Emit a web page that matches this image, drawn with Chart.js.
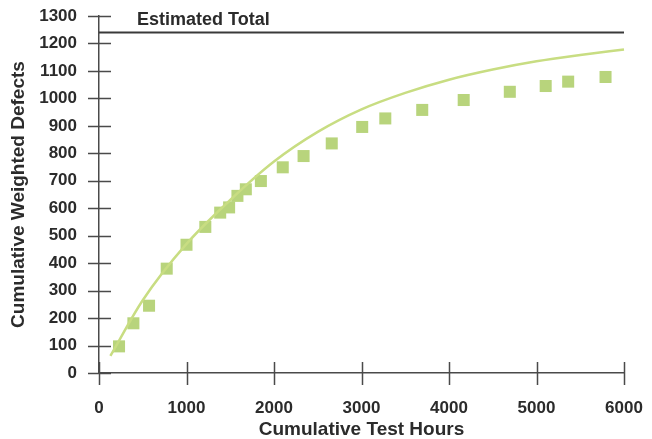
<!DOCTYPE html>
<html>
<head>
<meta charset="utf-8">
<script src="https://cdn.jsdelivr.net/npm/chart.js@4/dist/chart.umd.min.js"></script>
<style>
  html, body { margin: 0; padding: 0; background: #fff; }
  #wrap { width: 652px; height: 439px; }
</style>
</head>
<body>
<div id="wrap"><canvas id="defects-chart"></canvas></div>
<script>
// observed cumulative weighted defects (squares)
let testHours = [229, 393, 572, 774, 1000, 1215, 1385, 1487, 1582, 1678, 1850, 2100, 2338, 2660, 3008, 3272, 3694, 4168, 4695, 5105, 5362, 5789];
let defects = [97, 181, 245, 380, 467, 532, 584, 603, 645, 669, 699, 749, 790, 836, 896, 927, 958, 994, 1024, 1045, 1061, 1078];

// fitted curve
let curveHours = [130, 500, 1000, 1500, 2000, 2500, 3000, 3500, 4000, 4500, 5000, 5500, 6000];
let curveDefects = [62, 265, 470, 630, 770, 878, 960, 1020, 1068, 1105, 1135, 1158, 1178];

// estimated total
let estimatedTotal = 1240;
let estimatedLabel = "Estimated Total";
let estimatedLabelAt = 435;

let xTicks = [0, 1000, 2000, 3000, 4000, 5000, 6000];
let yMax = 1300;

let textColor = "#2b2b2b";
let axisColor = "#4a4a4a";
let fontFamily = "'Liberation Sans', Arial, Helvetica, sans-serif";

// ticks that cross the axis lines, plus the "Estimated Total" label
let crossTicks = {
  id: "crossTicks",
  afterDraw(chart) {
    let ctx = chart.ctx;
    let x = chart.scales.x;
    let y = chart.scales.y;
    let area = chart.chartArea;
    ctx.save();
    ctx.strokeStyle = axisColor;
    ctx.lineWidth = 1.5;
    ctx.beginPath();
    y.ticks.forEach((t) => {
      let py = Math.round(y.getPixelForValue(t.value)) + 0.5;
      ctx.moveTo(area.left - 11, py);
      ctx.lineTo(area.left + 12, py);
    });
    x.ticks.forEach((t) => {
      let px = Math.round(x.getPixelForValue(t.value)) + 0.5;
      ctx.moveTo(px, area.bottom - 11);
      ctx.lineTo(px, area.bottom + 12);
    });
    ctx.stroke();

    ctx.fillStyle = textColor;
    ctx.font = "bold 18px " + fontFamily;
    ctx.textAlign = "left";
    ctx.textBaseline = "middle";
    ctx.fillText(estimatedLabel, x.getPixelForValue(estimatedLabelAt), y.getPixelForValue(estimatedTotal) - 12);
    ctx.restore();
  },
};

new Chart(document.getElementById("defects-chart"), {
  type: "scatter",
  data: {
    datasets: [
      {
        label: "Estimated Total",
        type: "line",
        data: [
          { x: xTicks[0], y: estimatedTotal },
          { x: xTicks[xTicks.length - 1], y: estimatedTotal },
        ],
        borderColor: "#3a3a3a",
        borderWidth: 2,
        pointRadius: 0,
      },
      {
        label: "Fitted",
        type: "line",
        data: curveHours.map((h, i) => ({ x: h, y: curveDefects[i] })),
        borderColor: "#c8dd82",
        borderWidth: 2.5,
        pointRadius: 0,
        cubicInterpolationMode: "monotone",
        clip: false,
      },
      {
        label: "Observed",
        data: testHours.map((h, i) => ({ x: h, y: defects[i] })),
        pointStyle: "rect",
        pointRadius: 8.5,
        backgroundColor: "#b8d47c",
        borderWidth: 0,
        clip: false,
      },
    ],
  },
  options: {
    responsive: true,
    maintainAspectRatio: false,
    animation: false,
    layout: { padding: { left: 0, right: 28, top: 16, bottom: 0 } },
    plugins: {
      legend: { display: false },
      tooltip: { enabled: false },
    },
    scales: {
      x: {
        type: "linear",
        min: 0,
        max: 6000,
        afterBuildTicks(scale) {
          scale.ticks = xTicks.map((v) => ({ value: v }));
        },
        afterFit(scale) {
          scale.height = 66;
          scale.paddingLeft = 0;
          scale.paddingRight = 0;
        },
        grid: { display: false, drawTicks: false },
        border: { display: true, color: axisColor, width: 1.5 },
        ticks: {
          padding: 25,
          color: textColor,
          maxRotation: 0,
          callback: (v) => String(v),
          font: { family: fontFamily, size: 17, weight: "bold" },
        },
        title: {
          display: true,
          text: "Cumulative Test Hours",
          color: textColor,
          padding: { top: 0, bottom: -2 },
          font: { family: fontFamily, size: 19, weight: "bold" },
        },
      },
      y: {
        min: 0,
        max: yMax,
        afterFit(scale) {
          scale.width = 99;
          scale.paddingTop = 0;
          scale.paddingBottom = 0;
        },
        grid: { display: false, drawTicks: false },
        border: { display: true, color: axisColor, width: 1.5 },
        ticks: {
          stepSize: 100,
          padding: 22,
          color: textColor,
          callback: (v) => String(v),
          font: { family: fontFamily, size: 17, weight: "bold" },
        },
        title: {
          display: true,
          text: "Cumulative Weighted Defects",
          color: textColor,
          padding: { top: 7, bottom: 0 },
          font: { family: fontFamily, size: 19, weight: "bold" },
        },
      },
    },
  },
  plugins: [crossTicks],
});
</script>
</body>
</html>
